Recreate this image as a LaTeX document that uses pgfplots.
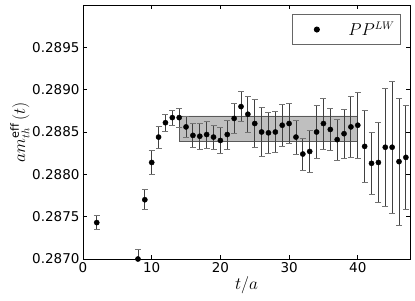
\documentclass[border=0pt]{standalone}
\usepackage{pgfplots}
\pgfplotsset{compat=1.18}
\usepackage{fontspec}
\setmainfont{DejaVu Sans}
\begin{document}
\begin{tikzpicture}
\useasboundingbox (-83pt,-41pt) rectangle (332pt,259pt);
\begin{axis}[
  at={(0pt,0pt)}, anchor=south west,
  scale only axis, width=327pt, height=254pt,
  xmin=0, xmax=47.6, ymin=0.2870, ymax=0.2900,
  xtick={0,10,20,30,40},
  ytick={0.2870,0.2875,0.2880,0.2885,0.2890,0.2895},
  scaled y ticks=false,
  yticklabel style={/pgf/number format/.cd, fixed, fixed zerofill, precision=4, assume math mode=true},
  xticklabel style={/pgf/number format/assume math mode=true},
  tick label style={font=\fontsize{13.5}{15}\selectfont},
  tick align=inside, tickpos=both, major tick length=4pt,
  tick style={black, line width=0.6pt},
  axis line style={black, line width=0.8pt},
  xlabel={$t/a$}, ylabel={$am_{th}^{\mathrm{eff}}\,(t)$},
  label style={font=\fontsize{16}{18}\selectfont},
  xlabel style={yshift=3pt},
  ylabel style={yshift=-4pt},
  legend style={at={(1,1)}, anchor=north east, xshift=-9pt, yshift=-9pt,
    draw=black!60, line width=0.8pt, inner xsep=4pt, inner ysep=5.5pt,
    font=\fontsize{16}{18}\selectfont, cells={anchor=west}},
  legend image code/.code={\path (0pt,0pt) (49pt,0pt); \path[#1] plot coordinates {(20pt,0pt)};},
]
\addplot[forget plot, fill=black!25, draw=black!65, line width=0.8pt] coordinates {
(14,0.28839) (40,0.28839) (40,0.28869) (14,0.28869) (14,0.28839)};
\addplot[only marks, mark=*, mark size=2.6pt, black,
  error bars/.cd, y dir=both, y explicit,
  error bar style={black!75, line width=0.9pt},
  error mark options={black!55, line width=0.8pt, mark size=3pt, rotate=90}]
table[x=t, y=v, y error=e] {
t v e
2 0.28743 0.00008
8 0.28700 0.00011
9 0.28770 0.00012
10 0.28814 0.00014
11 0.28844 0.00013
12 0.28861 0.00010
13 0.28867 0.00009
14 0.28867 0.00011
15 0.28856 0.00012
16 0.28846 0.00014
17 0.28845 0.00015
18 0.28847 0.00016
19 0.28844 0.00014
20 0.28840 0.00015
21 0.28847 0.00017
22 0.28866 0.00018
23 0.28880 0.00018
24 0.28871 0.00021
25 0.28860 0.00028
26 0.28850 0.00029
27 0.28849 0.00024
28 0.28850 0.00024
29 0.28858 0.00025
30 0.28860 0.00024
31 0.28844 0.00020
32 0.28824 0.00019
33 0.28827 0.00025
34 0.28850 0.00031
35 0.28860 0.00030
36 0.28853 0.00025
37 0.28841 0.00024
38 0.28848 0.00029
39 0.28856 0.00036
40 0.28858 0.00039
41 0.28833 0.00043
42 0.28813 0.00037
43 0.28814 0.00047
44 0.28832 0.00070
45 0.28832 0.00078
46 0.28815 0.00075
47 0.28820 0.00061
};
\addlegendentry{$PP^{LW}$}
\end{axis}
\end{tikzpicture}
\end{document}
